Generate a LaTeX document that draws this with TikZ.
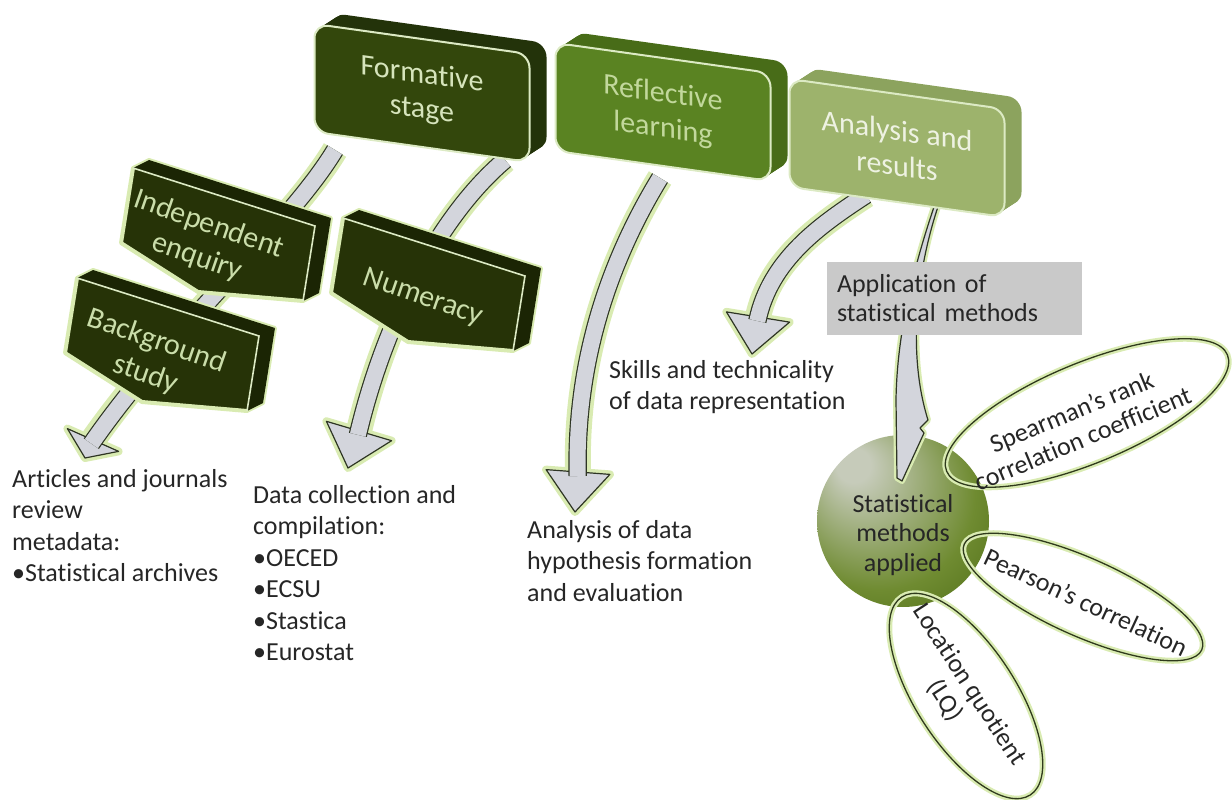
\documentclass[tikz,border=0pt]{standalone}
\usepackage{fontspec}
\setmainfont{Carlito}[Ligatures=NoCommon]
\usetikzlibrary{positioning,calc,shapes.geometric}

\definecolor{formfront}{HTML}{33470C}
\definecolor{formdeep}{HTML}{23330A}
\definecolor{formtext}{HTML}{D6E4BC}
\definecolor{reflfront}{HTML}{5A8322}
\definecolor{refldeep}{HTML}{486C18}
\definecolor{refltext}{HTML}{C2D89C}
\definecolor{anlfront}{HTML}{9DB36C}
\definecolor{anldeep}{HTML}{8CA35E}
\definecolor{anltext}{HTML}{EEF2E2}
\definecolor{slabfront}{HTML}{263307}
\definecolor{slabdeep}{HTML}{1B2504}
\definecolor{slabtext}{HTML}{CADDAA}
\definecolor{rimlight}{HTML}{DCEAC4}
\definecolor{glow}{HTML}{D9EBB2}
\definecolor{flowgray}{HTML}{D3D5DC}
\definecolor{flowline}{HTML}{2E3524}
\definecolor{boxgray}{HTML}{C9C9C9}
\definecolor{inkgray}{HTML}{262626}
\definecolor{ballhi}{HTML}{C6CBBA}
\definecolor{ballmid}{HTML}{6F8B31}
\definecolor{balldeep}{HTML}{496812}
\definecolor{petalline}{HTML}{2F3A1C}

\pgfdeclareradialshading{statball}{\pgfpoint{-16bp}{18bp}}{%
  color(0bp)=(ballhi); color(5bp)=(ballhi); color(28bp)=(ballmid);
  color(44bp)=(balldeep); color(50bp)=(balldeep)}

% curved block arrow: start, controls, head base, tip, half width of head
\newcommand\flowarrow[6]{%
  \coordinate (fb) at (#4);
  \coordinate (ft) at (#5);
  \draw[flowglow] (#1) .. controls (#2) and (#3) .. (fb);
  \filldraw[headglow] ($(fb)!#6!90:(ft)$) -- (ft) -- ($(fb)!#6!-90:(ft)$) -- cycle;
  \filldraw[flowhead] ($(fb)!#6!90:(ft)$) -- (ft) -- ($(fb)!#6!-90:(ft)$) -- cycle;
  \draw[flowbody] (#1) .. controls (#2) and (#3) .. ($(fb)!4pt!(ft)$);
}

\begin{document}
\begin{tikzpicture}[x=1pt,y=-1pt,font=\fontsize{26}{31.5}\selectfont,text=inkgray,
  stagebox/.style={rounded corners=14pt,minimum width=215pt,minimum height=108pt,
    inner sep=0pt,yslant=-0.14,align=center,line width=2pt,
    font=\fontsize{30}{35}\selectfont},
  slabtxt/.style={text=slabtext,rotate=-19,align=center,inner sep=0pt,
    font=\fontsize{30}{35}\selectfont},
  note/.style={anchor=north west,align=left,inner sep=0pt},
  appbox/.style={fill=boxgray,minimum width=255pt,minimum height=73pt,text width=235pt,
    align=left,inner xsep=10pt,inner ysep=0pt,font=\fontsize{26}{29}\selectfont},
  petal/.style={ellipse,draw=petalline,line width=1.3pt,inner sep=0pt,
    preaction={draw=glow,line width=6pt}},
  petaltxt/.style={align=center,inner sep=0pt,font=\fontsize{26}{29}\selectfont},
  flowglow/.style={draw=glow,line width=26pt},
  headglow/.style={draw=glow,fill=glow,line width=8pt,line join=round},
  flowhead/.style={fill=flowgray,draw=flowline,line width=1.2pt,line join=round},
  flowbody/.style={draw=flowline,line width=1.2pt,double=flowgray,double distance=16pt}]
\useasboundingbox (0,0) rectangle (1232,800);

% texts under the arrows
\node[note] (articles) at (12,469) {Articles and journals\\review\\metadata:\\•Statistical archives};
\node[note] (datacoll) at (253,485) {Data collection and\\compilation:\\•OECED\\•ECSU\\•Stastica\\•Eurostat};
\node[note] (hypo) at (527,520) {Analysis of data\\hypothesis formation\\and evaluation};
\node[note] (skills) at (609,360) {Skills and technicality\\of data representation};

% ball and petals
\node[circle,minimum size=172pt,inner sep=0pt,shade,shading=statball] (ball) at (903,521) {};
\node[align=center,inner sep=0pt,font=\fontsize{26}{29.5}\selectfont,text=black!85] (ball-t)
  at ($(ball.center)+(0,14)$) {Statistical\\methods\\applied};
\node[petal,rotate=22.5,minimum width=304pt,minimum height=100pt] (spear) at (1087,413) {};
\node[petal,rotate=-24,minimum width=260pt,minimum height=78pt] (pears) at (1083,597) {};
\node[petal,rotate=-57,minimum width=236pt,minimum height=100pt] (locq) at (966,696) {};
\node[petaltxt,rotate=22.5] (spear-t) at ($(spear.center)+(-10,12)$) {Spearman’s rank\\correlation coefficient};
\node[petaltxt,rotate=-25] (pears-t) at ($(pears.center)+(3,5)$) {Pearson’s correlation};
\node[petaltxt,rotate=-57] (locq-t) at ($(locq.center)+(-9,-3)$) {Location quotient\\(LQ)};

% curved arrows
\flowarrow{335,150}{290,225}{170,330}{93,440}{85,458}{28pt}
\flowarrow{505,160}{440,215}{385,320}{359,431}{348,468}{34pt}
\flowarrow{660,178}{610,260}{575,360}{578,472}{575,512}{32pt}
\flowarrow{866,195}{820,225}{770,260}{758,317}{752,354}{32pt}

% tapered arrow into the ball
\filldraw[draw=glow,fill=glow,line width=6pt,line join=round]
  (937,198) .. controls (915,262) and (897,330) .. (896,400) -- (897,478) -- (902,481)
  -- (924,433) -- (920,428) -- (928,420) .. controls (906,350) and (918,262) .. (941,198) -- cycle;
\filldraw[flowhead]
  (937,198) .. controls (915,262) and (897,330) .. (896,400) -- (897,478) -- (902,481)
  -- (924,433) -- (920,428) -- (928,420) .. controls (906,350) and (918,262) .. (941,198) -- cycle;
\node[appbox] (apply) at (954.5,298.5) {Application of\\statistical methods};

% slanted blocks
\foreach \name/\corner/\txt/\at in {
    indep/{133,168}/{Independent\\enquiry}/{70,73},
    numer/{343,218}/{Numeracy}/{80,80},
    bgst/{77,278}/{Background\\study}/{74,80}}{
  \begin{scope}[shift={(\corner)}]
    \filldraw[fill=slabfront,draw=glow,line width=4pt,line join=round]
      (0,0) -- (16,-8) -- (198,50) -- (186,125) -- (170,133) -- (65,124) -- (-12,75) -- cycle;
    \fill[slabdeep] (0,0) -- (16,-8) -- (198,50) -- (182,58) -- cycle;
    \fill[slabdeep] (182,58) -- (198,50) -- (186,125) -- (170,133) -- cycle;
    \draw[rimlight,line width=1.6pt] (0,0) -- (182,58) -- (170,133);
    \node[slabtxt] (\name) at (\at) {\txt};
  \end{scope}
}

% stage boxes on top
\foreach \name/\pos/\front/\deep/\ink/\txt in {
    form/{422,93}/formfront/formdeep/formtext/{Formative\\stage},
    refl/{663,112}/reflfront/refldeep/refltext/{Reflective\\learning},
    anl/{897,148}/anlfront/anldeep/anltext/{Analysis and\\results}}{
  \foreach \k in {10,...,1}
    \node[stagebox,fill=\deep] (\name-\k) at ($(\pos)+(1.7*\k,-1.1*\k)$) {};
  \node[stagebox,fill=\front,draw=rimlight,text=\ink] (\name) at (\pos) {\txt};
}
\end{tikzpicture}
\end{document}
